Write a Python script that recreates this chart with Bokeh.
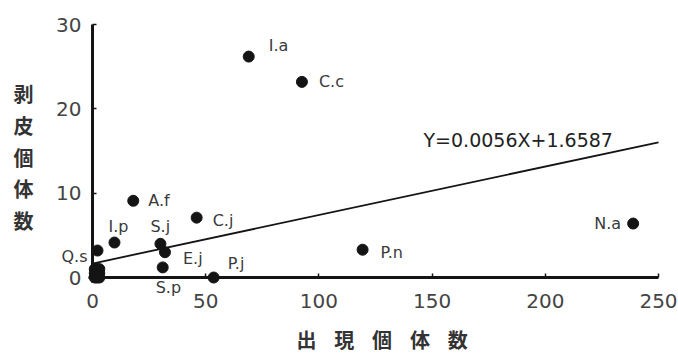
from bokeh.plotting import figure
from bokeh.models import Range1d, FixedTicker, ColumnDataSource
from bokeh.core.properties import value
from bokeh.embed import file_html
from bokeh.resources import INLINE

# ---------------- data ----------------
species = ["I.a", "C.c", "A.f", "C.j", "I.p", "S.j", "E.j", "Q.s", "S.p", "P.j", "P.n", "N.a"]
appear = [69, 92.5, 18, 46, 9.7, 30, 32, 2.2, 31, 53.5, 119.3, 238.8]
debark = [26.2, 23.2, 9.1, 7.1, 4.15, 4.0, 3.0, 3.2, 1.2, 0, 3.3, 6.4]

other_appear = [1, 2, 3, 1, 2, 3, 1, 2, 3]
other_debark = [0, 0, 0, 0.5, 0.5, 0.5, 1, 1, 1]

x_ticks = [0, 50, 100, 150, 200, 250]
y_ticks = [0, 10, 20, 30]
x_tick_labels = ["0", "50", "100", "150", "200", "250"]
y_tick_labels = ["0", "10", "20", "30"]

equation = "Y=0.0056X+1.6587"
fit_slope = 0.0575
fit_intercept = 1.6587
fit_x = [x_ticks[0], x_ticks[-1]]
fit_y = [fit_intercept + fit_slope * v for v in fit_x]

x_title = ["出", "現", "個", "体", "数"]
y_title = ["剥", "皮", "個", "体", "数"]

# ---------------- layout / style ----------------
label_style = {  # x_offset, y_offset (px), align
    "I.a": (20, -11, "left"), "C.c": (17, 0, "left"), "A.f": (15, 0, "left"),
    "C.j": (16, 3, "left"), "I.p": (-6, -16, "left"), "S.j": (-10, -17, "left"),
    "E.j": (18, 6, "left"), "Q.s": (-10, 6, "right"), "S.p": (-7, 20, "left"),
    "P.j": (14, -14, "left"), "P.n": (18, 3, "left"), "N.a": (-12, 0, "right"),
}
XT_START, XT_STEP, XT_Y = 94.5, 16.7, -7.3       # x-title character placement
YT_X, YT_START, YT_STEP = -30.5, 21.82, -3.765    # y-title character placement
YTL_X = -4.9                                      # y tick label anchor (right aligned)
XTL_Y = -1.9                                      # x tick label anchor (top)

INK = "#141414"
GRAY = "#3a3a3a"

p = figure(width=678, height=353, output_backend="svg", toolbar_location=None,
           x_range=Range1d(-40.64, 258.83), y_range=Range1d(-9.01, 32.85),
           min_border_left=0, min_border_right=0, min_border_top=0, min_border_bottom=0)
p.outline_line_color = None
p.xgrid.visible = False
p.ygrid.visible = False
p.background_fill_color = "white"
p.border_fill_color = "white"

for ax, ticks, bnds in ((p.xaxis[0], x_ticks, (-1.8, 250)), (p.yaxis[0], y_ticks, (-0.6, 30))):
    ax.fixed_location = 0
    ax.bounds = bnds
    ax.ticker = FixedTicker(ticks=ticks)
    ax.minor_tick_line_color = None
    ax.major_tick_in = 4
    ax.major_tick_out = 0
    ax.major_tick_line_width = 1.5
    ax.major_tick_line_color = INK
    ax.axis_line_width = 3
    ax.axis_line_color = INK
    ax.major_label_text_color = None
    ax.major_label_text_font_size = "1px"
    ax.major_label_standoff = 0

# tick labels
p.text([YTL_X] * len(y_ticks), y_ticks, text=y_tick_labels, text_align="right",
       text_baseline="middle", text_font=value("DejaVu Sans"), text_font_size="20px",
       text_color="#444444")
p.text(x_ticks, [XTL_Y] * len(x_ticks), text=x_tick_labels, text_align="center",
       text_baseline="top", text_font=value("DejaVu Sans"), text_font_size="20px",
       text_color="#444444")

# regression line
p.line(fit_x, fit_y, line_color=INK, line_width=1.8)

# points
p.scatter(other_appear, other_debark, size=11, color=INK)
p.scatter(appear, debark, size=11, color=INK)

# point labels
src = ColumnDataSource(dict(
    x=appear, y=debark, t=species,
    xo=[label_style[s][0] for s in species],
    yo=[label_style[s][1] for s in species],
    al=[label_style[s][2] for s in species],
))
p.text("x", "y", text="t", source=src, x_offset="xo", y_offset="yo", text_align="al",
       text_baseline="middle", text_font=value("DejaVu Sans"), text_font_size="16px",
       text_color=GRAY)

# equation
p.text([146.2], [16.25], text=[equation], text_align="left", text_baseline="middle",
       text_font=value("DejaVu Sans"), text_font_size="19px", text_color="#222222")

# axis titles
p.text([XT_START + i * XT_STEP for i in range(len(x_title))], [XT_Y] * len(x_title),
       text=x_title, text_align="center", text_baseline="middle",
       text_font=value("Noto Sans CJK JP"), text_font_style="bold",
       text_font_size="20px", text_color="#333333")
p.text([YT_X] * len(y_title), [YT_START + i * YT_STEP for i in range(len(y_title))],
       text=y_title, text_align="center", text_baseline="middle",
       text_font=value("Noto Sans CJK JP"), text_font_style="bold",
       text_font_size="20px", text_color="#333333")

open("out.html", "w").write(file_html(p, INLINE))
